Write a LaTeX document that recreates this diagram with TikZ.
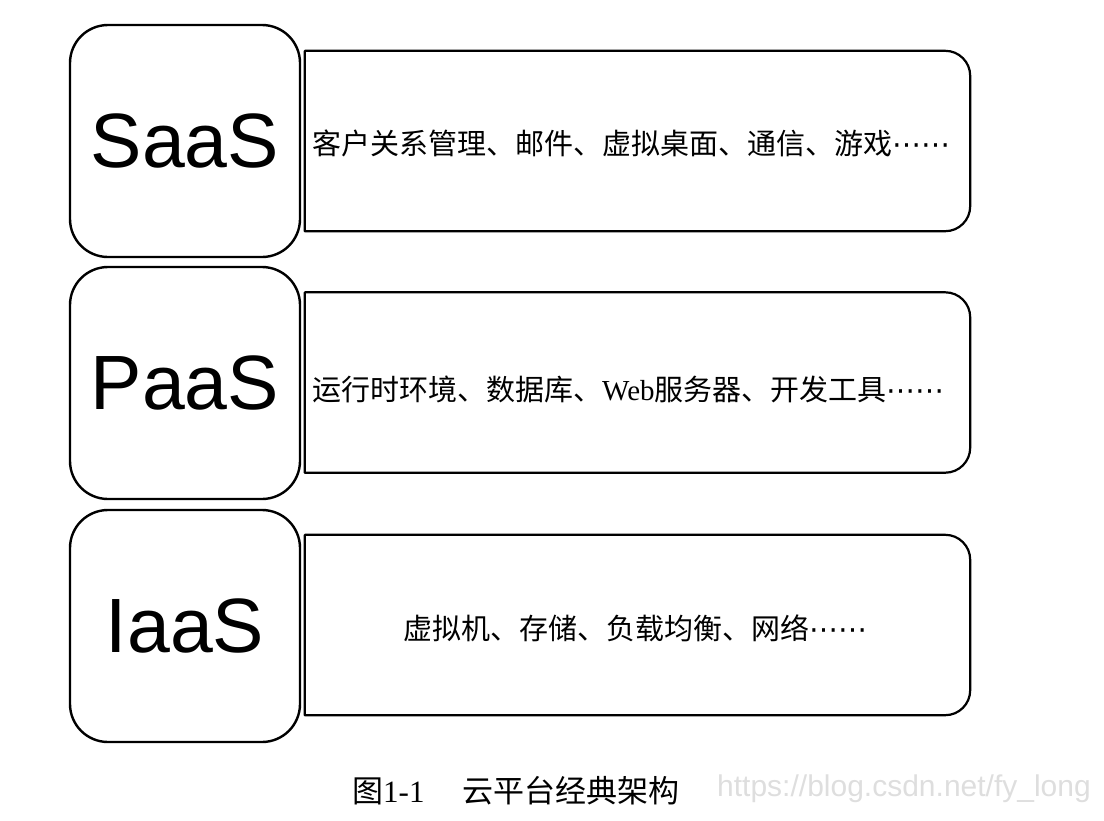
\documentclass[tikz,border=0pt]{standalone}
\usepackage{fontspec}
\setmainfont{Liberation Serif}
\newfontfamily\cjk{Noto Sans CJK SC}
\newfontfamily\dotsfont{DejaVu Sans}
\newfontfamily\layerfont{Liberation Sans}
\newcommand\moredots{{\dotsfont ⋯⋯}}
\tikzset{
  layername/.style={draw, line width=2.4pt, rounded corners=38pt, minimum width=230pt, minimum height=232pt, inner sep=0pt, font=\layerfont\fontsize{77}{80}\selectfont},
  layerbody/.style={minimum width=665pt, minimum height=180pt, inner sep=0pt},
  bodyline/.style={line width=2.2pt, line join=round},
  desc/.style={inner sep=0pt, font=\fontsize{29}{32}\selectfont},
}
\begin{document}
\begin{tikzpicture}[x=1pt,y=-1pt]
        \useasboundingbox (0,0) rectangle (1104,820);
        % left: layer names
        \node [layername] (saas) at (185,141) {SaaS};
        \node [layername] (paas) at (185,383) {PaaS};
        \node [layername] (iaas) at (185,626) {IaaS};
        % right: layer contents
        \node [layerbody] (saasbody) at (637.5,141) {};
        \node [layerbody] (paasbody) at (637.5,382.5) {};
        \node [layerbody] (iaasbody) at (637.5,625) {};
        \draw [bodyline] (saasbody.north west) -- ([xshift=-25pt]saasbody.north east) arc[start angle=90, end angle=0, radius=25pt] -- ([yshift=25pt]saasbody.south east) arc[start angle=0, end angle=-90, radius=25pt] -- (saasbody.south west) -- cycle ;
        \draw [bodyline] (paasbody.north west) -- ([xshift=-25pt]paasbody.north east) arc[start angle=90, end angle=0, radius=25pt] -- ([yshift=25pt]paasbody.south east) arc[start angle=0, end angle=-90, radius=25pt] -- (paasbody.south west) -- cycle ;
        \draw [bodyline] (iaasbody.north west) -- ([xshift=-25pt]iaasbody.north east) arc[start angle=90, end angle=0, radius=25pt] -- ([yshift=25pt]iaasbody.south east) arc[start angle=0, end angle=-90, radius=25pt] -- (iaasbody.south west) -- cycle ;
        \node [desc, anchor=west] (saastext) at (312,143.5) {{\cjk 客户关系管理、邮件、虚拟桌面、通信、游戏}\moredots};
        \node [desc, anchor=west] (paastext) at (312,389) {{\cjk 运行时环境、数据库、}Web{\cjk 服务器、开发工具}\moredots};
        \node [desc] (iaastext) at (635.5,628) {{\cjk 虚拟机、存储、负载均衡、网络}\moredots};
        % caption
        \node [anchor=west, inner sep=0pt, font=\fontsize{31}{34}\selectfont] (caption) at (352,791) {{\cjk 图}1-1\hspace{38pt}{\cjk 云平台经典架构}};
        \node [anchor=west, inner sep=0pt, text=black!13, font=\layerfont\fontsize{30}{33}\selectfont] (mark) at (717,789) {https://blog.csdn.net/fy\_long};
\end{tikzpicture}
\end{document}
